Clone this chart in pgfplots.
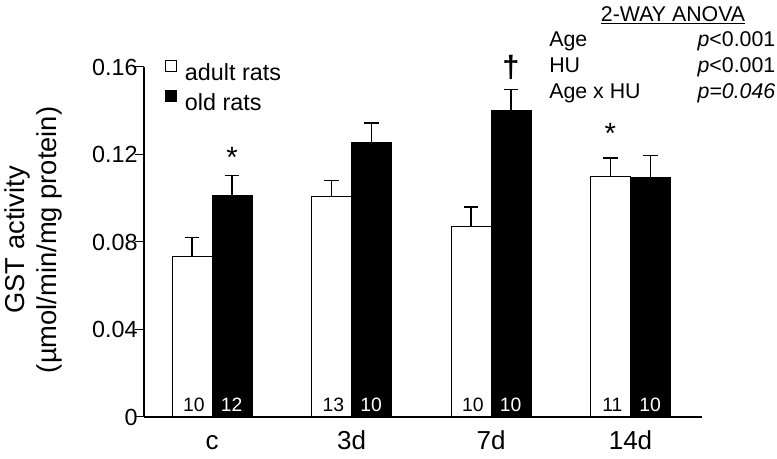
\documentclass[border=0pt]{standalone}
\usepackage{pgfplots}
\pgfplotsset{compat=1.18}
\usepackage{fontspec}
\setmainfont{Liberation Sans}
\begin{document}
\begin{tikzpicture}
\begin{axis}[
  scale only axis, width=418.5pt, height=262.5pt,
  xmin=-0.4875, xmax=3.5125, ymin=0, ymax=0.16,
  axis lines*=left,
  axis line style={line width=1.1pt, black},
  clip=false,
  ybar=0pt, bar width=30pt,
  legend image code/.code={\draw[#1, line width=0.75pt] (0pt,1.75pt) rectangle (8.25pt,10pt);},
  xtick={0,1,2,3}, xticklabels={c,3d,7d,14d},
  x tick style={draw=none},
  xticklabel style={font=\fontsize{19.5}{22}\selectfont, anchor=base, yshift=-18pt},
  ytick={0,0.04,0.08,0.12,0.16},
  yticklabels={0,0.04,0.08,0.12,0.16},
  scaled y ticks=false,
  y tick style={line width=0.75pt, black},
  tick align=outside, major tick length=6.75pt,
  yticklabel style={font=\fontsize{17.5}{20}\selectfont, inner sep=0pt, xshift=2.2pt},
  ylabel={GST activity\\(µmol/min/mg protein)},
  ylabel style={at={(axis description cs:-0.199,0.506)}, anchor=center, align=center, font=\fontsize{20.5}{24}\selectfont},
  legend style={at={(axis description cs:0.0376,1.02)}, anchor=north west, draw=none, fill=none,
    font=\fontsize{17.5}{21}\selectfont, inner sep=0pt, column sep=5.8pt, row sep=3.6pt,
    nodes={inner sep=0pt, text height=13pt, text depth=4pt}, cells={anchor=west}},
]
\addplot[fill=white, draw=black, line width=0.75pt,
  error bars/.cd, y dir=plus, y explicit,
  error bar style={line width=1.1pt, black},
  error mark options={line width=1.1pt, mark size=5.6pt, rotate=90}]
  coordinates {(0,0.0735) +- (0,0.0086) (1,0.1007) +- (0,0.0075) (2,0.0873) +- (0,0.0086) (3,0.1099) +- (0,0.0086)};
\addplot[fill=black, draw=black, line width=0.75pt,
  error bars/.cd, y dir=plus, y explicit,
  error bar style={line width=1.1pt, black},
  error mark options={line width=1.1pt, mark size=5.6pt, rotate=90}]
  coordinates {(0,0.1013) +- (0,0.0090) (1,0.1254) +- (0,0.0090) (2,0.1400) +- (0,0.0098) (3,0.1097) +- (0,0.0098)};
\legend{adult rats, old rats}
% counts
\node[font=\fontsize{14.5}{16}\selectfont, inner sep=0pt] at (axis cs:-0.13,0.0055) {10};
\node[font=\fontsize{14.5}{16}\selectfont, inner sep=0pt] at (axis cs:0.87,0.0055) {13};
\node[font=\fontsize{14.5}{16}\selectfont, inner sep=0pt] at (axis cs:1.87,0.0055) {10};
\node[font=\fontsize{14.5}{16}\selectfont, inner sep=0pt] at (axis cs:2.87,0.0055) {11};
\node[font=\fontsize{14.5}{16}\selectfont, inner sep=0pt, text=white] at (axis cs:0.14,0.0055) {12};
\node[font=\fontsize{14.5}{16}\selectfont, inner sep=0pt, text=white] at (axis cs:1.14,0.0055) {10};
\node[font=\fontsize{14.5}{16}\selectfont, inner sep=0pt, text=white] at (axis cs:2.14,0.0055) {10};
\node[font=\fontsize{14.5}{16}\selectfont, inner sep=0pt, text=white] at (axis cs:3.14,0.0055) {10};
% significance
\node[font=\fontsize{22}{24}\selectfont, anchor=north, inner sep=0pt] at (axis cs:0.1434,0.1234) {*};
\node[font=\fontsize{22}{24}\selectfont, anchor=north, inner sep=0pt] at (axis cs:2.856,0.1344) {*};
\node[font=\bfseries\fontsize{23}{26}\selectfont, anchor=north, inner sep=0pt] at (axis cs:2.1434,0.1655) {†};
% ANOVA
\node[font=\fontsize{16}{18}\selectfont, anchor=base, inner sep=0pt] at (axis cs:3.305,0.1808) {\underline{2-WAY ANOVA}};
\node[font=\fontsize{16}{18}\selectfont, anchor=base west, inner sep=0pt] at (axis cs:2.416,0.1694) {Age};
\node[font=\fontsize{16}{18}\selectfont, anchor=base west, inner sep=0pt] at (axis cs:2.416,0.1575) {HU};
\node[font=\fontsize{16}{18}\selectfont, anchor=base west, inner sep=0pt] at (axis cs:2.416,0.1456) {Age x HU};
\node[font=\fontsize{16}{18}\selectfont, anchor=base east, inner sep=0pt] at (axis cs:4.04,0.1694) {\textit{p}<0.001};
\node[font=\fontsize{16}{18}\selectfont, anchor=base east, inner sep=0pt] at (axis cs:4.04,0.1575) {\textit{p}<0.001};
\node[font=\fontsize{16}{18}\selectfont, anchor=base east, inner sep=0pt] at (axis cs:4.04,0.1456) {\textit{p=0.046}};
\end{axis}
\pgfresetboundingbox
\path[use as bounding box] (-108pt,-31.5pt) rectangle (474.75pt,312.75pt);
\end{tikzpicture}
\end{document}
